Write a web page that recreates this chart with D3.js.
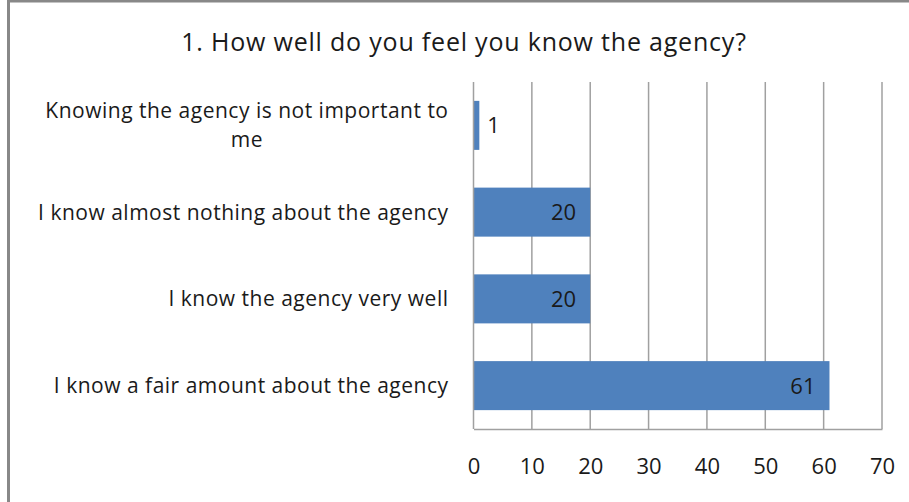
<!DOCTYPE html>
<html>
<head>
<meta charset="utf-8">
<script src="https://cdn.jsdelivr.net/npm/d3@7"></script>
<style>
  body { margin: 0; background: #fff; }
  text { font-family: "Open Sans", sans-serif; fill: #1a1a1a; }
</style>
</head>
<body>
<div id="chart"></div>
<script>
// chart data
var title = "1. How well do you feel you know the agency?";
var categories = [
    ["Knowing the agency is not important to", "me"],
    ["I know almost nothing about the agency"],
    ["I know the agency very well"],
    ["I know a fair amount about the agency"]
];
var values = [1, 20, 20, 61];
var xTicks = [0, 10, 20, 30, 40, 50, 60, 70];

var W = 909, H = 502;
var margin = {top: 82, right: 27, bottom: 73, left: 473.5};
var width = W - margin.left - margin.right;
var height = H - margin.top - margin.bottom;

var root = d3.select("#chart")
    .append("svg")
    .attr("width", W)
    .attr("height", H);

// outer chart frame (runs off the right and bottom edge)
root.append("rect")
    .attr("x", 8.5).attr("y", 1)
    .attr("width", W + 20).attr("height", H + 20)
    .attr("fill", "#fff")
    .attr("stroke", "#888")
    .attr("stroke-width", 3);

root.append("text")
    .attr("x", 464)
    .attr("y", 51)
    .attr("text-anchor", "middle")
    .style("font-size", "25px")
    .style("letter-spacing", "0.8px")
    .text(title);

var svg = root.append("g")
    .attr("transform", "translate(" + margin.left + "," + margin.top + ")");

var x = d3.scaleLinear()
    .domain([0, 70])
    .range([0, width]);

var y = d3.scaleBand()
    .domain(d3.range(categories.length))
    .range([0, height])
    .paddingInner(0.435)
    .paddingOuter(0.2175);

// vertical gridlines
svg.append("g")
    .selectAll("line")
    .data(xTicks.slice(1))
    .enter().append("line")
    .attr("x1", function(d) { return x(d); })
    .attr("x2", function(d) { return x(d); })
    .attr("y1", 0)
    .attr("y2", height)
    .attr("stroke", "#a0a0a0")
    .attr("stroke-width", 1.5);

// x axis
var xAxis = svg.append("g")
    .attr("transform", "translate(0," + height + ")")
    .call(d3.axisBottom(x).tickValues(xTicks).tickSize(0).tickPadding(29));
xAxis.select(".domain").attr("stroke", "#a0a0a0").attr("stroke-width", 1.5);
xAxis.selectAll("text")
    .style("font-family", "Open Sans, sans-serif")
    .style("font-size", "22px")
    .attr("fill", "#1a1a1a");

// bars
svg.append("g")
    .selectAll("rect")
    .data(values)
    .enter().append("rect")
    .attr("x", x(0))
    .attr("y", function(d, i) { return y(i); })
    .attr("width", function(d) { return x(d) - x(0); })
    .attr("height", y.bandwidth())
    .attr("fill", "#4f81bd");

// y axis line drawn over bars
svg.append("line")
    .attr("x1", 0).attr("x2", 0)
    .attr("y1", 0).attr("y2", height)
    .attr("stroke", "#a0a0a0")
    .attr("stroke-width", 1.5);

// value labels
svg.append("g")
    .selectAll("text")
    .data(values)
    .enter().append("text")
    .attr("x", function(d) { return x(d) < 30 ? x(d) + 8 : x(d) - 14; })
    .attr("y", function(d, i) { return y(i) + y.bandwidth() / 2; })
    .attr("dy", "0.36em")
    .attr("text-anchor", function(d) { return x(d) < 30 ? "start" : "end"; })
    .style("font-size", "22px")
    .text(function(d) { return d; });

// category labels, centred in a column left of the axis
var labels = svg.append("g")
    .selectAll("text")
    .data(categories)
    .enter().append("text")
    .attr("text-anchor", "middle")
    .attr("y", function(d, i) { return y(i) + y.bandwidth() / 2; })
    .style("font-size", "21px")
    .style("letter-spacing", "0.5px");

labels.selectAll("tspan")
    .data(function(d) { return d.map(function(s, k) { return {s: s, k: k, n: d.length}; }); })
    .enter().append("tspan")
    .attr("x", 0)
    .attr("dy", function(t) { return t.k === 0 ? ((0.36 - (t.n - 1) * 0.69) + "em") : "1.38em"; })
    .text(function(t) { return t.s; });

// right-align each label block to the column edge
labels.each(function() {
    var el = d3.select(this);
    var w = this.getBBox().width;
    el.attr("x", -25 - w / 2);
    el.selectAll("tspan").attr("x", -25 - w / 2);
});
</script>
</body>
</html>
